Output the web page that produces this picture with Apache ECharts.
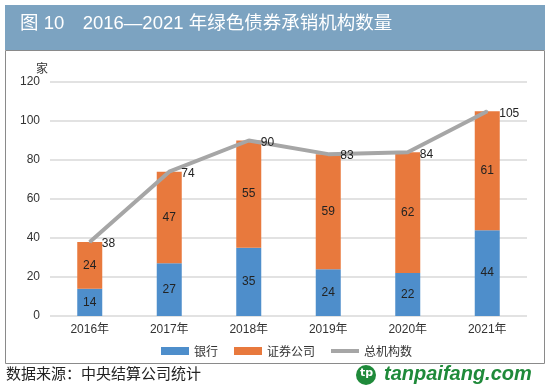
<!DOCTYPE html>
<html><head><meta charset="utf-8">
<script src="https://cdn.jsdelivr.net/npm/echarts@6/dist/echarts.min.js"></script>
<style>html,body{margin:0;padding:0;background:#fff}#c{width:550px;height:390px}</style>
</head><body><div id="c"></div>
<script>
const categories = ['2016年','2017年','2018年','2019年','2020年','2021年'];
const bankValues = [14, 27, 35, 24, 22, 44];
const securitiesValues = [24, 47, 55, 59, 62, 61];
const totalValues = [38, 74, 90, 83, 84, 105];
const yTicks = [0, 20, 40, 60, 80, 100, 120];

const font = '"Liberation Sans", "Noto Sans CJK SC", sans-serif';
const cjk = '"Noto Sans CJK SC", sans-serif';
const chart = echarts.init(document.getElementById('c'), null, {renderer: 'canvas'});
chart.setOption({
  animation: false,
  textStyle: {fontFamily: font},
  graphic: [
    {type: 'rect', shape: {x: 5, y: 5, width: 540, height: 45}, style: {fill: '#7ca3c1'}},
    {type: 'text', left: 20, top: 15, style: {text: '图 10　2016—2021 年绿色债券承销机构数量', fill: '#fff', font: '18.5px ' + font}},
    {type: 'rect', shape: {x: 5.5, y: 50.5, width: 539, height: 313}, style: {fill: 'none', stroke: '#8a8a8a', lineWidth: 1}},
    {type: 'text', left: 6, top: 366, style: {text: '数据来源：中央结算公司统计', fill: '#222', font: '15px ' + cjk}},
    {type: 'circle', shape: {cx: 366, cy: 375, r: 10}, style: {fill: '#1f8a3a'}},
    {type: 'text', left: 360, top: 368, style: {text: 'tp', fill: '#fff', font: 'bold 11px "DejaVu Sans"'}},
    {type: 'text', left: 384, top: 364, style: {text: 'tanpaifang.com', fill: '#1f8a3a', font: 'italic bold 20px "Liberation Sans"'}}
  ],
  grid: {left: 50, right: 23, top: 82, bottom: 74, containLabel: false},
  legend: {
    bottom: 28, left: 156, itemWidth: 28, itemHeight: 8, itemGap: 16,
    textStyle: {fontSize: 12, color: '#333', fontFamily: cjk},
    data: [
      {name: '银行', icon: 'rect'},
      {name: '证券公司', icon: 'rect'},
      {name: '总机构数', icon: 'path://M0,0 L28,0 L28,4 L0,4 Z'}
    ]
  },
  xAxis: {
    type: 'category', data: categories,
    axisLine: {show: false}, axisTick: {show: false},
    axisLabel: {color: '#333', fontSize: 12, margin: 8}
  },
  yAxis: {
    type: 'value', min: 0, max: 120, interval: 20,
    name: '家', nameLocation: 'end', nameGap: 8,
    nameTextStyle: {color: '#333', fontSize: 12, align: 'right', padding: [0, 2, 0, 0], fontFamily: cjk},
    axisLine: {show: false}, axisTick: {show: false},
    axisLabel: {color: '#333', fontSize: 12, margin: 10, formatter: v => yTicks.includes(v) ? String(v) : ''},
    splitLine: {lineStyle: {color: '#d9d9d9', width: 1.5}}
  },
  series: [
    {name: '银行', type: 'bar', stack: 't', data: bankValues, barWidth: 25,
      itemStyle: {color: '#4e8ecb'},
      label: {show: true, position: 'inside', color: '#222', fontSize: 12}},
    {name: '证券公司', type: 'bar', stack: 't', data: securitiesValues, barWidth: 25,
      itemStyle: {color: '#e8793d'},
      label: {show: true, position: 'inside', color: '#222', fontSize: 12}},
    {name: '总机构数', type: 'line', data: totalValues, symbol: 'circle', symbolSize: 2, showSymbol: true,
      lineStyle: {color: '#a6a6a6', width: 4}, itemStyle: {color: '#a6a6a6'},
      label: {show: true, position: 'right', color: '#222', fontSize: 12, distance: 11, offset: [0, 2]}}
  ]
});
</script></body></html>
